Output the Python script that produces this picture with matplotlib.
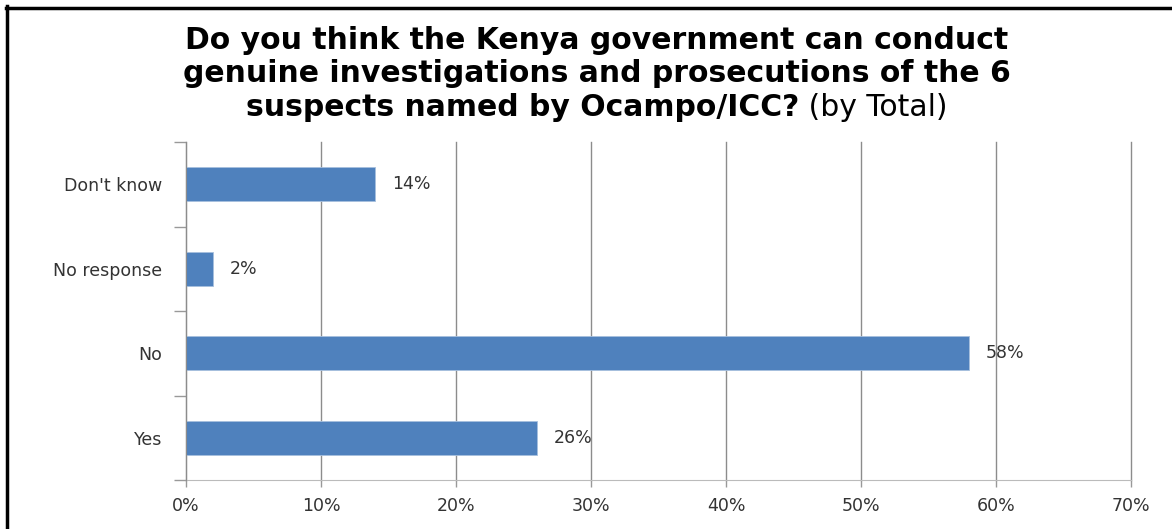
import matplotlib
matplotlib.use("Agg")
import matplotlib.pyplot as plt
from matplotlib.lines import Line2D

categories = ["Yes", "No", "No response", "Don't know"]
values = [26, 58, 2, 14]
x_ticks = [0, 10, 20, 30, 40, 50, 60, 70]
title_lines = ["Do you think the Kenya government can conduct",
               "genuine investigations and prosecutions of the 6"]
title_last_bold = "suspects named by Ocampo/ICC?"
title_last_normal = " (by Total)"

W, H = 1172, 529
fig = plt.figure(figsize=(W / 100, H / 100), dpi=100)
fig.patch.set_facecolor("white")

ax = fig.add_axes([186 / W, 1 - 480 / H, (1131 - 186) / W, (480 - 142) / H])
ypos = list(range(len(categories)))
ax.barh(ypos, values, height=0.40, color="#4F81BD", edgecolor="#A7C0DE", linewidth=0.6, zorder=3)

ax.set_xlim(0, 70)
ax.set_ylim(-0.5, len(categories) - 0.5)
ax.set_xticks(x_ticks)
ax.set_xticklabels([f"{t}%" for t in x_ticks], fontsize=12.5, color="#333333")
ax.tick_params(axis="x", length=5, width=1, color="#999999", pad=7)

# category boundaries get the tick marks, centres carry the labels
ax.set_yticks([i - 0.5 for i in range(len(categories) + 1)])
ax.set_yticklabels([])
ax.set_yticks(ypos, minor=True)
ax.set_yticklabels(categories, minor=True, fontsize=12.5, color="#333333")
ax.tick_params(axis="y", which="major", length=9, width=1, color="#999999")
ax.tick_params(axis="y", which="minor", length=0, pad=17)

ax.grid(axis="x", color="#8C8C8C", linewidth=1, zorder=0)
for gl in ax.get_xgridlines():
    gl.set_clip_on(False)
for side in ["top", "right"]:
    ax.spines[side].set_visible(False)
ax.spines["left"].set_color("#8C8C8C")
ax.spines["bottom"].set_color("#BBBBBB")
ax.spines["left"].set_zorder(4)

for y, v in zip(ypos, values):
    ax.annotate(f"{v}%", (v, y), xytext=(12, 0), textcoords="offset points",
                va="center", ha="left", fontsize=12.5, color="#333333", zorder=5)

# title
cx = 597 / W
tsize = 21.5
fig.text(cx, 1 - 40 / H, title_lines[0], ha="center", va="center",
         fontsize=tsize, fontweight="bold", color="black")
fig.text(cx, 1 - 74 / H, title_lines[1], ha="center", va="center",
         fontsize=tsize, fontweight="bold", color="black")
renderer = fig.canvas.get_renderer()
t_bold = fig.text(0, 1 - 108 / H, title_last_bold, ha="left", va="center",
                  fontsize=tsize, fontweight="bold", color="black")
t_norm = fig.text(0, 1 - 108 / H, title_last_normal, ha="left", va="center",
                  fontsize=tsize, color="black")
wb = t_bold.get_window_extent(renderer).width / W
wn = t_norm.get_window_extent(renderer).width / W
x0 = cx - (wb + wn) / 2
t_bold.set_x(x0)
t_norm.set_x(x0 + wb)

# frame lines along the top and left edges
fig.add_artist(Line2D([6 / W, 1], [1 - 7.5 / H, 1 - 7.5 / H], color="black", linewidth=2.5))
fig.add_artist(Line2D([6.5 / W, 6.5 / W], [0, 1 - 6 / H], color="black", linewidth=2.5))

fig.savefig("out.png", dpi=100, facecolor="white")
